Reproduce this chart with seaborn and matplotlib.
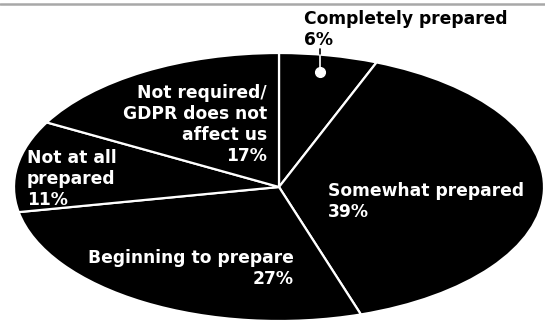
import matplotlib
matplotlib.use("Agg")
import matplotlib.pyplot as plt
import seaborn as sns

sns.set_theme(style="white")
plt.rcParams["font.family"] = ["DejaVu Sans"]

# GDPR readiness survey
labels = ["Completely prepared", "Somewhat prepared", "Beginning to prepare",
          "Not at all prepared", "Not required/\nGDPR does not affect us"]
shares = [6, 39, 27, 11, 17]

W, H = 545, 320
fig = plt.figure(figsize=(W / 100, H / 100), dpi=100)
ax = fig.add_axes([0, 0, 1, 1])

# pie with circle squashed into an ellipse
cx, cy, rx, ry = 279, 187, 265, 134
ax.pie(shares, startangle=90, counterclock=False, colors=["black"] * len(shares),
       wedgeprops=dict(edgecolor="white", linewidth=1.6), radius=1)
ax.set_aspect("auto")
ax.set_xlim(-cx / rx, (W - cx) / rx)
ax.set_ylim(-(H - cy) / ry, cy / ry)
ax.axis("off")


def px(x, y):
    return (x - cx) / rx, (cy - y) / ry


fs = 12.3
kw = dict(fontsize=fs, fontweight="bold", linespacing=1.22)

# top rule
fig.add_artist(plt.Line2D([0, 1], [1 - 4 / H, 1 - 4 / H], color="#a8a8a8", lw=1.8))

# leader for the small slice
ax.plot(*zip(px(320, 49), px(320, 55)), color="black", lw=1.2)
ax.plot(*zip(px(320, 55), px(320, 72)), color="white", lw=1.2)
ax.plot(*px(320, 72), "o", color="white", ms=7)

ax.text(*px(304, 10), "Completely prepared\n6%", color="black", ha="left", va="top", **kw)
ax.text(*px(328, 182), "Somewhat prepared\n39%", color="white", ha="left", va="top", **kw)
ax.text(*px(294, 249), "Beginning to prepare\n27%", color="white", ha="right", va="top",
        multialignment="right", **kw)
ax.text(*px(27, 149), "Not at all\nprepared\n11%", color="white", ha="left", va="top", **kw)
ax.text(*px(267, 84), "Not required/\nGDPR does not\naffect us\n17%", color="white",
        ha="right", va="top", multialignment="right", **kw)

fig.savefig("out.png", dpi=100)
